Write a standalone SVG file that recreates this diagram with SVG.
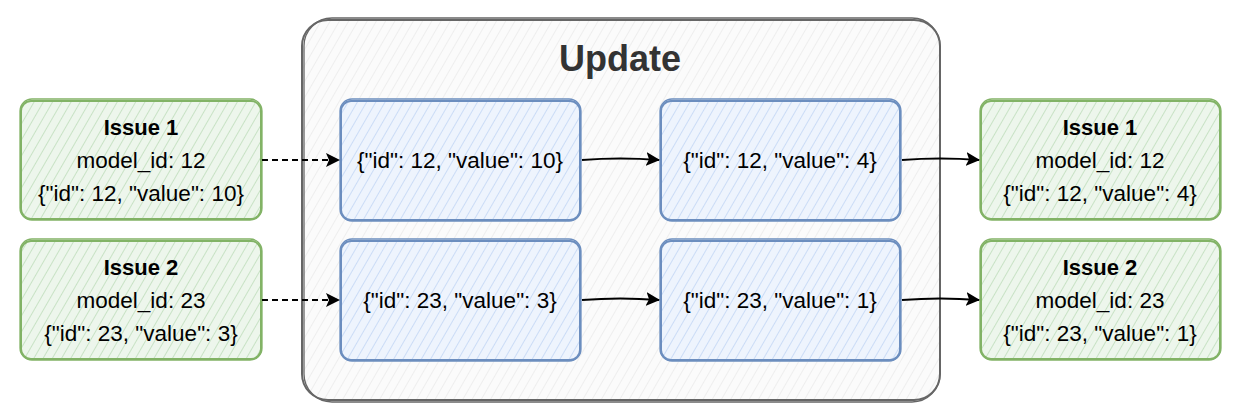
<svg xmlns="http://www.w3.org/2000/svg" width="1240" height="420" viewBox="0 0 1240 420">
<defs>
<pattern id="hg" patternUnits="userSpaceOnUse" width="8" height="8" patternTransform="rotate(30)">
<rect width="8" height="8" fill="#edf6ec"/>
<line x1="0" y1="0" x2="0" y2="8" stroke="#b5d8b0" stroke-width="1.3"/>
</pattern>
<pattern id="hb" patternUnits="userSpaceOnUse" width="8" height="8" patternTransform="rotate(30)">
<rect width="8" height="8" fill="#eef4fd"/>
<line x1="0" y1="0" x2="0" y2="8" stroke="#b8d0f3" stroke-width="1.3"/>
</pattern>
<pattern id="hc" patternUnits="userSpaceOnUse" width="8" height="8" patternTransform="rotate(30)">
<rect width="8" height="8" fill="#fbfbfb"/>
<line x1="0" y1="0" x2="0" y2="8" stroke="#e6e6e6" stroke-width="1.2"/>
</pattern>
<marker id="ah" viewBox="0 0 14 14" refX="13" refY="7" markerWidth="14" markerHeight="14" markerUnits="userSpaceOnUse" orient="auto">
<path d="M0,0 L14,7 L0,14 L3,7 Z" fill="#000"/>
</marker>
</defs>
<style>
text{font-family:"Liberation Sans",Arial,sans-serif;fill:#000;text-anchor:middle}
.t{font-size:22.5px}
.b{font-size:22px;font-weight:bold}
.g{fill:url(#hg);stroke:#82b366;stroke-width:2}
.g2{fill:none;stroke:#82b366;stroke-width:1.3}
.bl{fill:url(#hb);stroke:#6c8ebf;stroke-width:2}
.bl2{fill:none;stroke:#6c8ebf;stroke-width:1.3}
.c{fill:url(#hc);stroke:#666;stroke-width:2}
.c2{fill:none;stroke:#666;stroke-width:1.3}
.e{fill:none;stroke:#000;stroke-width:2;marker-end:url(#ah)}
.d{stroke-dasharray:6 4}
</style>

<g id="update">
<rect class="c" x="302" y="20" width="638" height="380" rx="26"/>
<rect class="c2" x="304" y="18" width="636" height="384" rx="28"/>
<text x="620" y="71" style="font-size:36px;font-weight:bold;fill:#333">Update</text>
</g>

<g id="issue1-in">
<rect class="g" x="21" y="101" width="240" height="118" rx="10"/>
<rect class="g2" x="20" y="99" width="242" height="121" rx="12"/>
<text class="b" x="141" y="135">Issue 1</text>
<text class="t" x="141" y="168">model_id: 12</text>
<text class="t" x="141" y="201">{"id": 12, "value": 10}</text>
</g>
<g id="issue2-in">
<rect class="g" x="21" y="241" width="240" height="118" rx="10"/>
<rect class="g2" x="20" y="239" width="242" height="121" rx="12"/>
<text class="b" x="141" y="275">Issue 2</text>
<text class="t" x="141" y="308">model_id: 23</text>
<text class="t" x="141" y="341">{"id": 23, "value": 3}</text>
</g>

<g id="s1a">
<rect class="bl" x="341" y="101" width="239" height="119" rx="10"/>
<rect class="bl2" x="340" y="99" width="241" height="122" rx="12"/>
<text class="t" x="460" y="168">{"id": 12, "value": 10}</text>
</g>
<g id="s1b">
<rect class="bl" x="661" y="101" width="239" height="119" rx="10"/>
<rect class="bl2" x="660" y="99" width="241" height="122" rx="12"/>
<text class="t" x="780" y="168">{"id": 12, "value": 4}</text>
</g>
<g id="s2a">
<rect class="bl" x="341" y="241" width="239" height="119" rx="10"/>
<rect class="bl2" x="340" y="239" width="241" height="122" rx="12"/>
<text class="t" x="460" y="308">{"id": 23, "value": 3}</text>
</g>
<g id="s2b">
<rect class="bl" x="661" y="241" width="239" height="119" rx="10"/>
<rect class="bl2" x="660" y="239" width="241" height="122" rx="12"/>
<text class="t" x="780" y="308">{"id": 23, "value": 1}</text>
</g>

<g id="issue1-out">
<rect class="g" x="981" y="101" width="239" height="118" rx="10"/>
<rect class="g2" x="980" y="99" width="241" height="121" rx="12"/>
<text class="b" x="1100" y="135">Issue 1</text>
<text class="t" x="1100" y="168">model_id: 12</text>
<text class="t" x="1100" y="201">{"id": 12, "value": 4}</text>
</g>
<g id="issue2-out">
<rect class="g" x="981" y="241" width="239" height="118" rx="10"/>
<rect class="g2" x="980" y="239" width="241" height="121" rx="12"/>
<text class="b" x="1100" y="275">Issue 2</text>
<text class="t" x="1100" y="308">model_id: 23</text>
<text class="t" x="1100" y="341">{"id": 23, "value": 1}</text>
</g>

<g id="connectors">
<path class="e d" d="M262,160 L339,160"/>
<path class="e d" d="M262,300 L339,300"/>
<path class="e" d="M582,160 Q620,157 659,160"/>
<path class="e" d="M902,160 Q940,157 979,160"/>
<path class="e" d="M582,300 Q620,297 659,300"/>
<path class="e" d="M902,300 Q940,297 979,300"/>
</g>
</svg>
